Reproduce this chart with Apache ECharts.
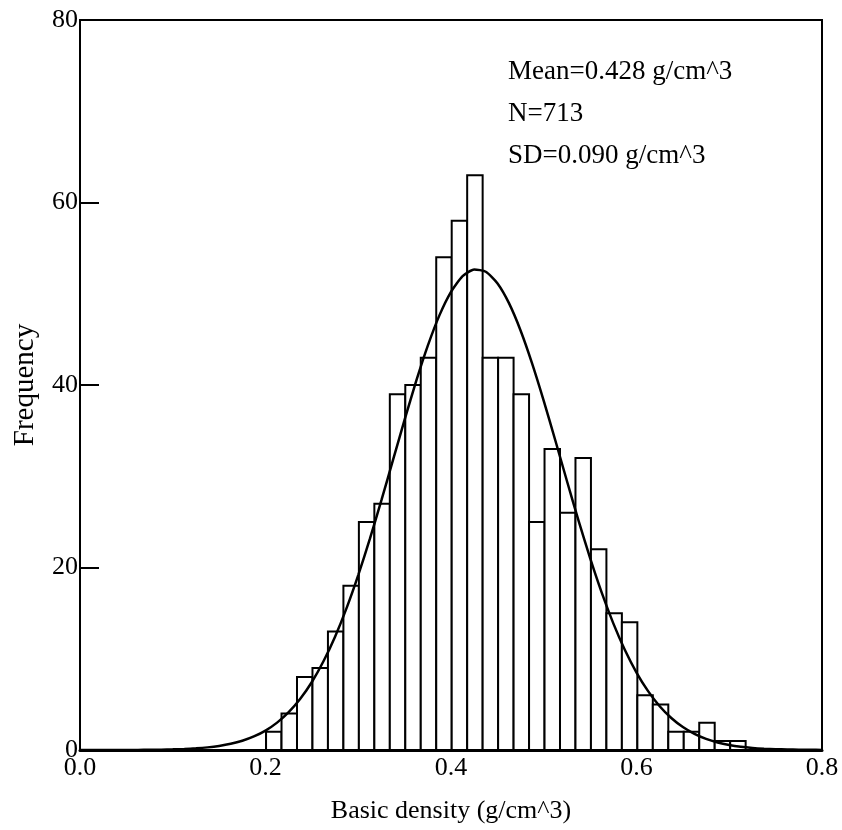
<!DOCTYPE html>
<html>
<head>
<meta charset="utf-8">
<script src="https://cdn.jsdelivr.net/npm/echarts@6/dist/echarts.min.js"></script>
<style>
  html, body { margin: 0; padding: 0; background: #fff; }
  #chart { width: 842px; height: 830px; }
</style>
</head>
<body>
<div id="chart"></div>
<script>
// Histogram bins (lower edge of first bin, bin width, counts)
var binStart = 0.2006;
var binWidth = 0.01668;
var counts = [2, 4, 8, 9, 13, 18, 25, 27, 39, 40, 43, 54, 58, 63, 43, 43, 39, 25, 33, 26, 32, 22, 15, 14, 6, 5, 2, 2, 3, 1, 1];

// Fitted normal curve (x in g/cm^3, y in frequency)
var curveX = [0.0000, 0.0125, 0.0250, 0.0375, 0.0500, 0.0625, 0.0750, 0.0875,
  0.1000, 0.1125, 0.1250, 0.1375, 0.1500, 0.1625, 0.1750, 0.1875,
  0.2000, 0.2125, 0.2250, 0.2375, 0.2500, 0.2625, 0.2750, 0.2875,
  0.3000, 0.3125, 0.3250, 0.3375, 0.3500, 0.3625, 0.3750, 0.3875,
  0.4000, 0.4125, 0.4250, 0.4375, 0.4500, 0.4625, 0.4750, 0.4875,
  0.5000, 0.5125, 0.5250, 0.5375, 0.5500, 0.5625, 0.5750, 0.5875,
  0.6000, 0.6125, 0.6250, 0.6375, 0.6500, 0.6625, 0.6750, 0.6875,
  0.7000, 0.7125, 0.7250, 0.7375, 0.7500, 0.7625, 0.7750, 0.7875, 0.8000];
var curveY = [0.000, 0.001, 0.002, 0.004, 0.007, 0.013, 0.024, 0.041,
  0.069, 0.113, 0.182, 0.288, 0.447, 0.679, 1.014, 1.484,
  2.129, 2.998, 4.140, 5.61, 7.45, 9.72, 12.42, 15.58,
  19.17, 23.13, 27.38, 31.79, 36.20, 40.44, 44.31, 47.63,
  50.21, 51.93, 52.67, 52.41, 51.15, 48.97, 45.98, 42.35,
  38.27, 33.92, 29.48, 25.14, 21.03, 17.25, 13.88, 10.96,
  8.49, 6.45, 4.80, 3.51, 2.52, 1.77, 1.22, 0.825,
  0.548, 0.357, 0.228, 0.143, 0.088, 0.053, 0.031, 0.018, 0.010];

// Axis ticks
var xTicks = [0.0, 0.2, 0.4, 0.6, 0.8];
var yTicks = [0, 20, 40, 60, 80];

// Stats text
var statLines = ['Mean=0.428 g/cm^3', 'N=713', 'SD=0.090 g/cm^3'];

var FONT = '"Liberation Serif", "Times New Roman", serif';

var barData = counts.map(function (c, i) {
  return [binStart + i * binWidth, binStart + (i + 1) * binWidth, c];
});
var curveData = curveX.map(function (x, i) { return [x, curveY[i]]; });

var chart = echarts.init(document.getElementById('chart'), null, { renderer: 'canvas' });

var option = {
  animation: false,
  backgroundColor: '#fff',
  grid: {
    left: 80, right: 20, top: 20, bottom: 80,
    show: true, borderColor: '#000', borderWidth: 2, backgroundColor: 'transparent'
  },
  xAxis: {
    type: 'value',
    min: xTicks[0], max: xTicks[xTicks.length - 1], interval: 0.2,
    name: 'Basic density (g/cm^3)',
    nameLocation: 'middle', nameGap: 48,
    nameTextStyle: { fontFamily: FONT, fontSize: 26, color: '#000' },
    axisLine: { show: true, onZero: false, lineStyle: { color: '#000', width: 3 } },
    axisTick: { show: true, inside: true, length: 18, lineStyle: { color: '#000', width: 2 } },
    axisLabel: { fontFamily: FONT, fontSize: 26, color: '#000', margin: 5,
      formatter: function (v) { return v.toFixed(1); } },
    splitLine: { show: false }
  },
  yAxis: {
    type: 'value',
    min: yTicks[0], max: yTicks[yTicks.length - 1], interval: 20,
    name: 'Frequency',
    nameLocation: 'middle', nameGap: 40, nameRotate: 90,
    nameTextStyle: { fontFamily: FONT, fontSize: 29, color: '#000' },
    axisLine: { show: true, lineStyle: { color: '#000', width: 2 } },
    axisTick: { show: true, inside: true, length: 19, lineStyle: { color: '#000', width: 2 } },
    axisLabel: { fontFamily: FONT, fontSize: 26, color: '#000', margin: 2 },
    splitLine: { show: false }
  },
  graphic: statLines.map(function (t, i) {
    return {
      type: 'text', left: 508, top: 58 + i * 42, z: 100,
      style: { text: t, font: '27px ' + FONT, fill: '#000' }
    };
  }),
  series: [
    {
      type: 'custom',
      renderItem: function (params, api) {
        var p0 = api.coord([api.value(0), api.value(2)]);
        var p1 = api.coord([api.value(1), 0]);
        return {
          type: 'rect',
          shape: { x: p0[0], y: p0[1], width: p1[0] - p0[0], height: p1[1] - p0[1] },
          style: { fill: '#fff', stroke: '#000', lineWidth: 2 }
        };
      },
      encode: { x: [0, 1], y: 2 },
      data: barData,
      z: 2
    },
    {
      type: 'line',
      data: curveData,
      smooth: 0.2,
      showSymbol: false,
      lineStyle: { color: '#000', width: 2.5 },
      z: 3
    }
  ]
};
chart.setOption(option);
</script>
</body>
</html>
